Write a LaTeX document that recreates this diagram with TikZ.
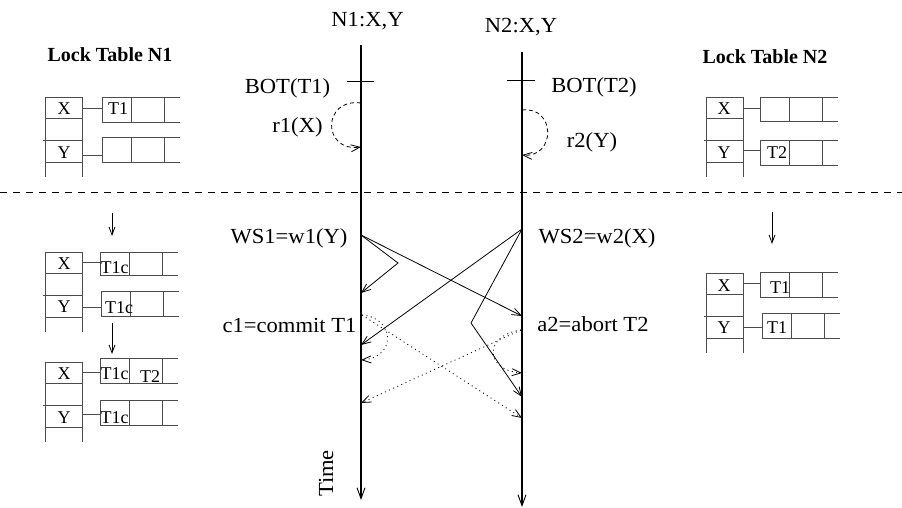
\documentclass[tikz,border=0pt]{standalone}
\usepackage{fontspec}
\setmainfont{Liberation Serif}
\newfontfamily\lblfont[FakeStretch=1.05]{Liberation Serif}
\usetikzlibrary{arrows.meta}

% bucket column of a lock table: left x, top y
\newcommand\lkcol[2]{%
  \draw[tbl] (#1,#2) -- (#1+37,#2)
    (#1,#2) -- (#1,#2+80) (#1+37,#2) -- (#1+37,#2+80)
    (#1,#2+21) -- (#1+37,#2+21)
    (#1-2,#2+43) -- (#1+37,#2+43)
    (#1,#2+65) -- (#1+37,#2+65);
}
% lock entry list: box left x, top y, height, link y, column right x
\newcommand\lkentry[5]{%
  \draw[tbl] (#5,#4) -- (#1,#4);
  \draw[tbl] (#1,#2) rectangle (#1+62,#2+#3)
    (#1+29,#2) -- (#1+29,#2+#3)
    (#1+62,#2) -- (#1+78,#2)
    (#1+62,#2+#3) -- (#1+78,#2+#3);
}

\tikzset{
  barb/.tip={Straight Barb[length=9pt,width=7pt,line width=0.8pt]},
  timeline/.style={line width=1.2pt,-{Straight Barb[length=11pt,width=8pt,line width=0.9pt]}},
  tickline/.style={line width=0.9pt},
  msg/.style={line width=0.8pt,-barb},
  dotmsg/.style={msg,dash pattern=on 1pt off 3.5pt},
  loopmsg/.style={msg,dash pattern=on 4pt off 3pt},
  sepline/.style={line width=0.7pt,dash pattern=on 7pt off 6pt},
  evlabel/.style={font=\lblfont\fontsize{21.5}{25}\selectfont,anchor=base,inner sep=0pt},
  tbltext/.style={font=\fontsize{18}{21}\selectfont,anchor=base,inner sep=0pt},
  tbltextl/.style={tbltext,anchor=base west},
  tbltitle/.style={font=\bfseries\fontsize{20}{24}\selectfont,anchor=base,inner sep=0pt},
  tbl/.style={line width=0.8pt,draw=black!70},
  tblarrow/.style={line width=0.8pt,-{Straight Barb[length=8pt,width=6pt,line width=0.8pt]}},
}

\begin{document}
\begin{tikzpicture}[x=1pt,y=-1pt]
\useasboundingbox (0,0) rectangle (902,508);

% separator between reading and commit phases
\draw[sepline] (0,192) -- (902,192);

% node time lines
\coordinate (n1s) at (361,45);
\coordinate (n1e) at (361,500);
\coordinate (n2s) at (522,52);
\coordinate (n2e) at (522,507);
\draw[timeline] (n1s) -- (n1e);
\draw[timeline] (n2s) -- (n2e);
\node[evlabel] (n1name) at (367.5,27) {N1:X,Y};
\node[evlabel] (n2name) at (521,33) {N2:X,Y};
\node[evlabel,rotate=90] (time) at (333,473.5) {Time};

% begin of transactions
\coordinate (bot1) at (361,81);
\coordinate (bot2) at (522,80);
\draw[tickline] ([xshift=-14pt]bot1) -- ([xshift=13pt]bot1);
\draw[tickline] ([xshift=-15pt]bot2) -- ([xshift=13pt]bot2);
\node[evlabel] (bot1l) at (287.5,94) {BOT(T1)};
\node[evlabel] (bot2l) at (594,93) {BOT(T2)};

% local reads
\coordinate (r1s) at (361,103);
\coordinate (r1e) at (361,147);
\coordinate (r2s) at (522,110);
\coordinate (r2e) at (522,155);
\draw[loopmsg] (r1s) .. controls (322,98) and (322,152) .. (r1e);
\draw[loopmsg] (r2s) .. controls (556,106) and (556,158) .. (r2e);
\node[evlabel] (r1l) at (297.5,133) {r1(X)};
\node[evlabel] (r2l) at (592,147) {r2(Y)};

% write sets
\coordinate (ws1) at (361,235);
\coordinate (ws1k) at (398,263);
\coordinate (ws1r) at (361,293);
\coordinate (ws1n2) at (522,316);
\coordinate (ws2) at (522,229);
\coordinate (ws2k) at (471,323);
\coordinate (ws2r) at (522,397);
\coordinate (ws2n1) at (361,345);
\draw[msg] (ws1) -- (ws1k) -- (ws1r);
\draw[msg] (ws1) -- (ws1n2);
\draw[msg] (ws2) -- (ws2n1);
\draw[msg] (ws2) -- (ws2k) -- (ws2r);
\node[evlabel] (ws1l) at (289,243) {WS1=w1(Y)};
\node[evlabel] (ws2l) at (597,243) {WS2=w2(X)};

% commit and abort
\coordinate (c1) at (362,315);
\coordinate (c1r) at (361,360);
\coordinate (c1n2) at (522,418);
\coordinate (a2) at (521,330);
\coordinate (a2r) at (522,373);
\coordinate (a2n1) at (361,403);
\draw[dotmsg] (c1) .. controls (396,318) and (396,358) .. (c1r);
\draw[dotmsg] (c1) -- (c1n2);
\draw[dotmsg] (a2) .. controls (484,335) and (484,370) .. (a2r);
\draw[dotmsg] (a2) -- (a2n1);
\node[evlabel] (c1l) at (289.5,332) {c1=commit T1};
\node[evlabel] (a2l) at (593,331) {a2=abort T2};

% ---- lock table N1 ----
\node[tbltitle] (lt1) at (110,62) {Lock Table N1};

\lkcol{45}{97}
\lkentry{102}{97}{25}{108}{82}
\lkentry{102}{137}{25}{155}{82}
\node[tbltext] (t1aX) at (64,115) {X};
\node[tbltext] (t1aY) at (64,158) {Y};
\node[tbltext] (t1aX1) at (118,115) {T1};

\draw[tblarrow] (112,213) -- (112,236);

\lkcol{45}{252}
\lkentry{100}{252}{23}{262}{82}
\lkentry{101}{291}{25}{307}{82}
\node[tbltext] (t1bX) at (64,269) {X};
\node[tbltext] (t1bY) at (64,312) {Y};
\node[tbltextl] (t1bX1) at (100.5,273) {T1c};
\node[tbltextl] (t1bY1) at (105,313) {T1c};

\draw[tblarrow] (112,323) -- (112,354);

\lkcol{45}{362}
\lkentry{100}{358}{25}{372}{82}
\lkentry{100}{400}{25}{414}{82}
\node[tbltext] (t1cX) at (64,379) {X};
\node[tbltext] (t1cY) at (64,423) {Y};
\node[tbltextl] (t1cX1) at (100.5,379) {T1c};
\node[tbltext] (t1cX2) at (150,382) {T2};
\node[tbltextl] (t1cY1) at (100.5,423) {T1c};

% ---- lock table N2 ----
\node[tbltitle] (lt2) at (765,64) {Lock Table N2};

\lkcol{706}{97}
\lkentry{760}{97}{24}{108}{743}
\lkentry{760}{140}{25}{150}{743}
\node[tbltext] (t2aX) at (724,115) {X};
\node[tbltext] (t2aY) at (724,158) {Y};
\node[tbltext] (t2aY1) at (777,158) {T2};

\draw[tblarrow] (772,212) -- (772,244);

\lkcol{706}{273}
\lkentry{760}{272}{25}{283}{743}
\lkentry{762}{313}{25}{327}{743}
\node[tbltext] (t2bX) at (724,291) {X};
\node[tbltext] (t2bY) at (724,333) {Y};
\node[tbltext] (t2bX1) at (780,293) {T1};
\node[tbltext] (t2bY1) at (777,333) {T1};

\end{tikzpicture}
\end{document}
